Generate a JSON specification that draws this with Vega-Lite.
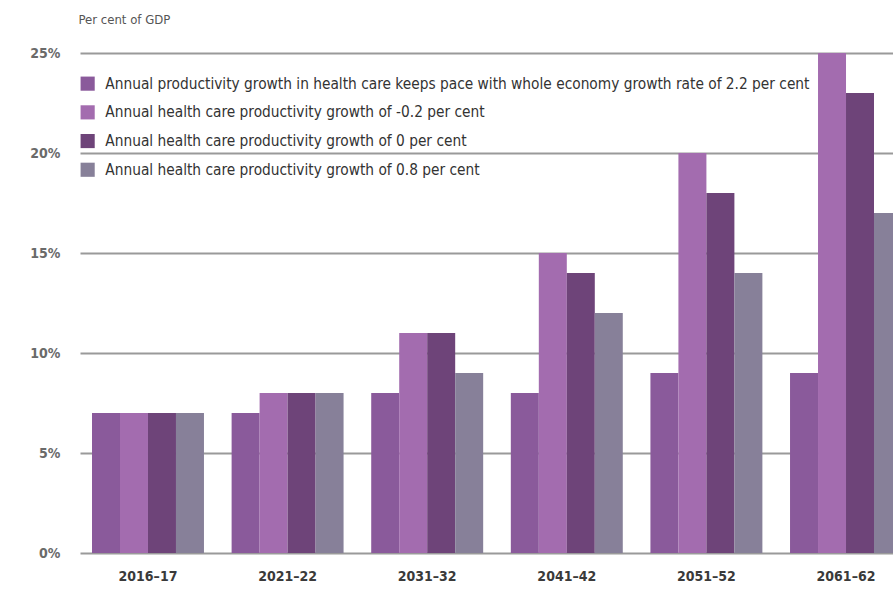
{
  "$schema": "https://vega.github.io/schema/vega-lite/v6.json",
  "width": 813,
  "height": 500,
  "autosize": "none",
  "padding": {"left": 80, "top": 53, "right": 0, "bottom": 38},
  "background": "white",
  "config": {
    "view": {"stroke": null},
    "font": "DejaVu Sans Condensed"
  },
  "data": {
    "values": [
      {"year": "2016–17", "s": 1, "v": 7}, {"year": "2016–17", "s": 2, "v": 7}, {"year": "2016–17", "s": 3, "v": 7}, {"year": "2016–17", "s": 4, "v": 7},
      {"year": "2021–22", "s": 1, "v": 7}, {"year": "2021–22", "s": 2, "v": 8}, {"year": "2021–22", "s": 3, "v": 8}, {"year": "2021–22", "s": 4, "v": 8},
      {"year": "2031–32", "s": 1, "v": 8}, {"year": "2031–32", "s": 2, "v": 11}, {"year": "2031–32", "s": 3, "v": 11}, {"year": "2031–32", "s": 4, "v": 9},
      {"year": "2041–42", "s": 1, "v": 8}, {"year": "2041–42", "s": 2, "v": 15}, {"year": "2041–42", "s": 3, "v": 14}, {"year": "2041–42", "s": 4, "v": 12},
      {"year": "2051–52", "s": 1, "v": 9}, {"year": "2051–52", "s": 2, "v": 20}, {"year": "2051–52", "s": 3, "v": 18}, {"year": "2051–52", "s": 4, "v": 14},
      {"year": "2061–62", "s": 1, "v": 9}, {"year": "2061–62", "s": 2, "v": 25}, {"year": "2061–62", "s": 3, "v": 23}, {"year": "2061–62", "s": 4, "v": 17}
    ]
  },
  "mark": {"type": "bar", "clip": true},
  "encoding": {
    "x": {
      "field": "year", "type": "nominal", "sort": null,
      "scale": {"range": [0, 834], "paddingInner": 0.198, "paddingOuter": 0.086},
      "axis": {
        "title": null, "labelAngle": 0, "domain": false, "ticks": false,
        "labelFontSize": 14, "labelFontWeight": "bold", "labelColor": "#3a3a3a",
        "labelPadding": 16
      }
    },
    "xOffset": {"field": "s", "type": "ordinal", "scale": {"paddingInner": 0, "paddingOuter": 0}},
    "y": {
      "field": "v", "type": "quantitative",
      "scale": {"domain": [0, 25]},
      "axis": {
        "values": [0, 5, 10, 15, 20, 25],
        "labelExpr": "datum.value + '%'",
        "title": "Per cent of GDP", "titleAngle": 0, "titleAlign": "left",
        "titleX": -2, "titleY": -27, "titleFontSize": 13, "titleFontWeight": "normal",
        "titleColor": "#555555",
        "domain": false, "ticks": false,
        "labelFontSize": 14, "labelFontWeight": "bold", "labelColor": "#6a6a6a", "labelPadding": 20,
        "grid": true, "gridColor": "#9a9a9a", "gridWidth": 2
      }
    },
    "color": {
      "field": "s", "type": "nominal",
      "scale": {
        "domain": [1, 2, 3, 4],
        "range": ["#8a5a9b", "#a36caf", "#6e4479", "#878099"]
      },
      "legend": {
        "title": null, "orient": "none", "legendX": 0, "legendY": 23,
        "symbolType": "square", "symbolSize": 200, "symbolStrokeWidth": 0,
        "labelFontSize": 15.3, "labelColor": "#333333", "labelLimit": 900,
        "rowPadding": 12.7, "labelOffset": 10,
        "labelExpr": "['', 'Annual productivity growth in health care keeps pace with whole economy growth rate of 2.2 per cent', 'Annual health care productivity growth of -0.2 per cent', 'Annual health care productivity growth of 0 per cent', 'Annual health care productivity growth of 0.8 per cent'][datum.value]"
      }
    }
  }
}
